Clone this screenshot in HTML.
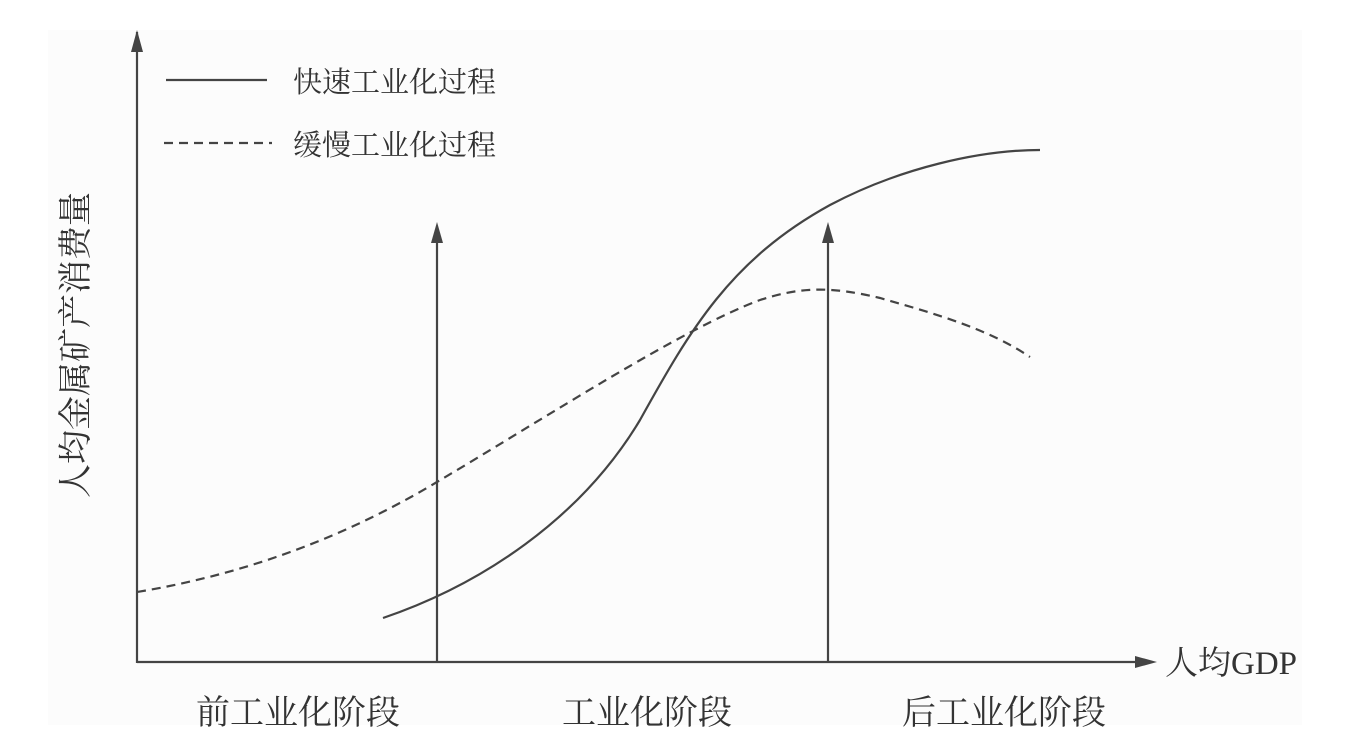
<!DOCTYPE html>
<html><head><meta charset="utf-8"><style>
html,body{margin:0;padding:0;background:#fff;width:1356px;height:754px;overflow:hidden}
svg{display:block}
text{font-family:"Liberation Serif","Noto Serif CJK SC","Noto Sans CJK SC",serif;fill:#333}
</style></head><body>
<svg width="1356" height="754" viewBox="0 0 1356 754">
<rect x="48" y="30" width="1254" height="695" fill="#fcfcfc"/>
<g stroke="#444" stroke-width="2.2" fill="none">
<line x1="137" y1="663" x2="137" y2="32"/>
<path d="M131,52 L137,30 L143,52 Z" fill="#444" stroke="none"/>
<line x1="137" y1="662" x2="1140" y2="662"/>
<path d="M1135,656 L1157,662 L1135,668 Z" fill="#444" stroke="none"/>
<line x1="437" y1="662" x2="437" y2="240"/>
<path d="M431,243 L437,222 L443,243 Z" fill="#444" stroke="none"/>
<line x1="828" y1="662" x2="828" y2="240"/>
<path d="M822,243 L828,222 L834,243 Z" fill="#444" stroke="none"/>
<line x1="166" y1="80" x2="267" y2="80"/>
<line x1="164" y1="143" x2="272" y2="143" stroke-dasharray="9,6"/>
<path d="M383,618 C480,585 580,520 640,420 C690,330 730,260 830,205 C900,168 980,150 1040,150"/>
<path stroke-dasharray="9,6" d="M137,592 C240,575 340,540 437,482 C550,415 680,330 760,300 C800,287 830,286 880,298 C940,315 990,330 1030,357"/>
</g>
<g font-size="29">
<text x="293" y="92">快速工业化过程</text>
<text x="293" y="155">缓慢工业化过程</text>
</g>
<g font-size="34">
<text x="1165" y="674" font-size="33">人均GDP</text>
<text x="196" y="724">前工业化阶段</text>
<text x="562" y="724">工业化阶段</text>
<text x="902" y="724">后工业化阶段</text>
<text transform="translate(87,345) rotate(-90)" text-anchor="middle">人均金属矿产消费量</text>
</g>
</svg>
</body></html>
